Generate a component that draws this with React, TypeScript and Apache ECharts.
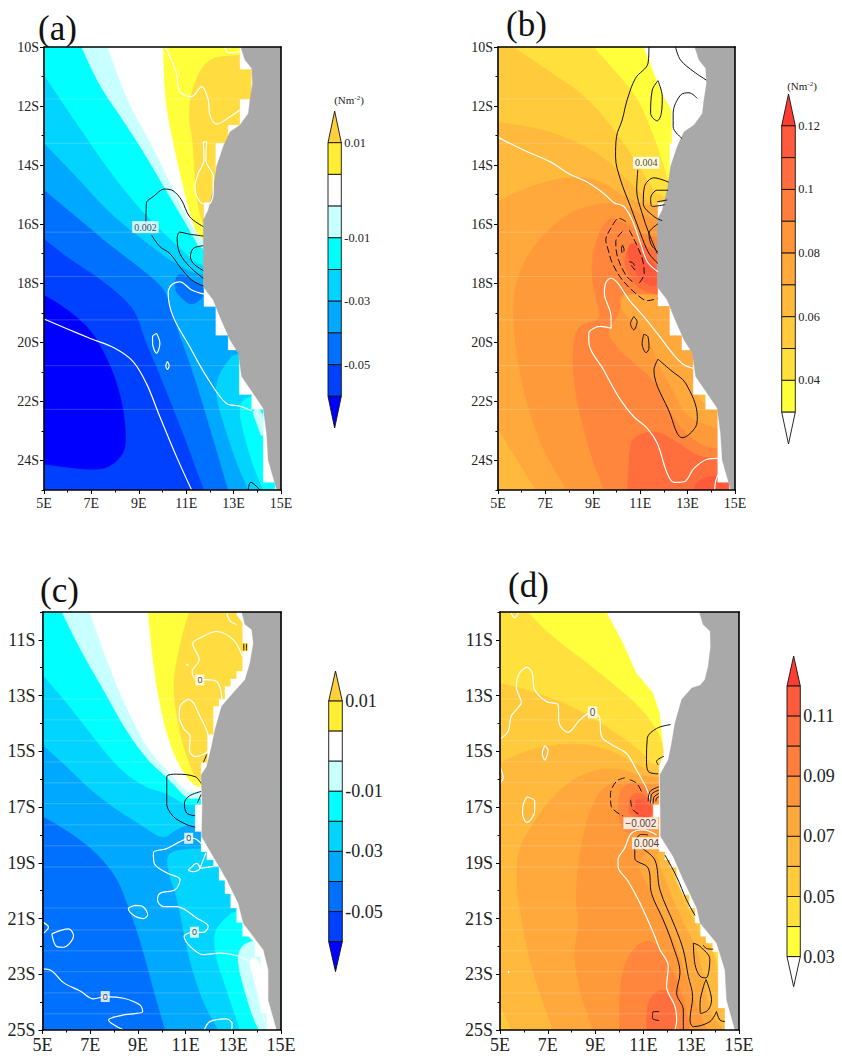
import React, { useEffect, useRef } from "react";
import * as echarts from "echarts";

type Pt = [number, number];
type Layer = [number, Pt[]];
type Lab = [number, number, string];

const closed = (p: Pt[]): Pt[] => [...p, p[0]];

const blueBands = ["#0000ff", "#0040ff", "#0070ff", "#00a8ff", "#00d4ff", "#00ffff", "#c8ffff", "#ffffff", "#ffff3c", "#ffdc40"];
const warmBands = ["#ffffff", "#ffff3c", "#ffe03c", "#ffcb3c", "#ffb93c", "#ffa83c", "#ff9a3a", "#ff863c", "#ff6e3c", "#ff5a3c", "#ff3c32"];
const barBlue = ["#ffcf3c", "#ffee33", "#ffffff", "#c8ffff", "#00ffff", "#00d4ff", "#00a8ff", "#0070ff", "#0040ff", "#0000ff"];
const barWarm = ["#ff3c32", "#ff5a3c", "#ff6e3c", "#ff7e3c", "#ff9438", "#ffa83c", "#ffb93c", "#ffcb3c", "#ffe03c", "#ffff3c", "#ffffff"];

const barLabelsA: Record<number, string> = { 1: "0.01", 4: "-0.01", 6: "-0.03", 8: "-0.05" };
const barLabelsB: Record<number, string> = { 1: "0.12", 3: "0.1", 5: "0.08", 7: "0.06", 9: "0.04" };
const barLabelsD: Record<number, string> = { 2: "0.11", 4: "0.09", 6: "0.07", 8: "0.05", 10: "0.03" };

const latTicksTop = [10, 12, 14, 16, 18, 20, 22, 24];
const latTicksBottom = [11, 13, 15, 17, 19, 21, 23, 25];

const seamLatsTop = [11.76, 13.26, 16.27, 17.77, 19.24, 20.79, 22.27];
const seamLatsBottom = [13.12, 13.87, 14.62, 15.38, 16.13, 16.88, 17.64, 18.39, 19.15, 20.62, 21.41, 22.16, 22.91, 23.67, 24.42];

const whole: Pt[] = [[5, 10], [15, 10], [15, 25], [5, 25]];

const landTop: Pt[] = [[13.3, 10], [13.48, 10.44], [13.76, 10.72], [13.8, 11.23], [13.69, 11.79], [13.62, 12.25], [13.27, 12.64], [12.85, 12.87], [12.56, 13.37], [12.28, 14.05], [12.14, 14.84], [11.93, 15.52], [11.72, 15.86], [11.72, 18.12], [12.14, 18.57], [12.42, 19.13], [12.85, 19.92], [13.2, 20.37], [13.34, 21.16], [13.83, 21.73], [14.25, 22.23], [14.39, 23.08], [14.46, 23.98], [14.82, 25], [15, 25], [15, 10]];
const landC: Pt[] = [[13.35, 10], [13.49, 10.45], [13.77, 10.63], [13.84, 11.11], [13.7, 11.83], [13.49, 12.43], [13, 12.9], [12.51, 13.38], [12.23, 14.22], [12.09, 14.82], [11.88, 15.55], [11.65, 15.85], [11.7, 16.98], [11.67, 18.06], [12.17, 18.79], [12.73, 19.62], [13.21, 20.45], [13.42, 21.17], [14.26, 22.12], [14.47, 22.84], [14.47, 23.93], [14.82, 25], [15, 25], [15, 10]];
const landD: Pt[] = [[13.34, 10], [13.5, 10.45], [13.79, 10.69], [13.81, 11.23], [13.71, 11.95], [13.57, 12.43], [13.37, 12.63], [13.02, 12.73], [12.6, 13.14], [12.32, 13.98], [12.18, 14.7], [12.04, 15.3], [11.69, 15.84], [11.72, 18.06], [12.25, 18.78], [12.67, 19.61], [13.23, 20.62], [13.37, 21.16], [14.06, 21.88], [14.41, 22.84], [14.48, 23.92], [14.83, 25], [15, 25], [15, 10]];

const maskA: Pt[] = [[13.27, 10], [13.27, 10.75], [13.76, 10.75], [13.76, 11.78], [13.27, 11.78], [13.27, 12.64], [12.77, 12.64], [12.77, 13.26], [12.25, 13.26], [12.25, 15.27], [11.75, 15.27], [11.75, 18.79], [12.25, 18.79], [12.25, 19.76], [12.77, 19.76], [12.77, 20.26], [13.24, 20.26], [13.24, 21.77], [13.76, 21.77], [13.76, 22.27], [14.25, 22.27], [14.25, 24.74], [14.75, 24.74], [14.75, 25], [15, 25], [15, 10]];
const maskB: Pt[] = [[11.15, 10], [11.58, 10.89], [12, 11.68], [12.32, 12.13], [12.35, 13.28], [12.25, 13.28], [12.25, 14.67], [12.03, 15.27], [11.75, 15.29], [11.75, 18.77], [12.25, 18.77], [12.25, 19.76], [12.76, 19.76], [12.76, 20.26], [13.24, 20.26], [13.24, 21.77], [13.76, 21.77], [13.76, 22.27], [14.27, 22.27], [14.27, 24.74], [14.76, 24.74], [14.76, 25], [15, 25], [15, 10]];
const maskC: Pt[] = [[13.14, 10], [13.14, 10.1], [13.39, 10.39], [13.39, 11.11], [13.63, 11.11], [13.63, 11.41], [13.39, 11.41], [13.39, 12.13], [13.14, 12.13], [13.14, 12.4], [12.89, 12.4], [12.89, 12.67], [12.65, 12.67], [12.65, 13.14], [12.4, 13.14], [12.4, 13.38], [12.17, 13.38], [12.17, 14.4], [11.92, 14.4], [11.92, 15.41], [11.65, 15.41], [11.65, 16.92], [11.4, 16.92], [11.4, 17.88], [11.65, 17.88], [11.65, 18.6], [11.89, 18.6], [11.89, 18.89], [12.17, 18.89], [12.17, 19.13], [12.4, 19.13], [12.4, 19.63], [12.65, 19.63], [12.65, 20.11], [12.89, 20.11], [12.89, 20.62], [13.14, 20.62], [13.14, 21.14], [13.39, 21.14], [13.39, 21.64], [13.63, 21.64], [13.91, 21.88], [13.91, 22.36], [14.15, 22.36], [14.15, 24.4], [14.4, 24.4], [14.4, 25], [15, 25], [15, 10]];
const maskD: Pt[] = [[9.46, 10], [10.15, 11.11], [10.71, 12.19], [11.41, 12.91], [11.69, 13.63], [11.86, 15.07], [11.66, 15.54], [11.66, 16.92], [11.41, 16.92], [11.41, 17.36], [11.66, 17.36], [11.66, 18.6], [11.9, 18.6], [11.9, 18.9], [12.11, 18.9], [12.11, 19.16], [12.39, 19.16], [12.39, 19.61], [12.67, 20.15], [12.92, 20.15], [12.92, 20.62], [13.16, 20.62], [13.16, 21.16], [13.39, 21.16], [13.39, 21.64], [13.62, 21.64], [13.62, 21.88], [13.9, 21.88], [13.9, 22.18], [14.13, 22.18], [14.13, 24.21], [14.41, 24.21], [14.41, 25], [15, 25], [15, 10]];

const fillsA: Layer[] = [
  [1, whole],
  [0, [[5, 18.4], [5.94, 18.85], [6.93, 19.53], [7.49, 20.26], [7.99, 21.16], [8.34, 22.18], [8.48, 23.31], [8.34, 23.82], [7.7, 24.27], [6.79, 24.32], [5, 24.13]]],
  [2, [[5, 16.49], [5.94, 17.1], [7.35, 17.83], [8.48, 18.57], [8.97, 19.13], [9.25, 19.92], [9.75, 20.82], [10.31, 21.95], [10.87, 23.08], [11.44, 24.32], [11.75, 25], [15, 25], [15, 10], [5, 10]]],
  [3, [[5, 14.84], [6.37, 15.75], [7.77, 16.7], [9.18, 17.55], [10.17, 18.23], [10.59, 19.47], [11.01, 20.37], [11.44, 21.39], [11.86, 22.52], [12.28, 23.65], [12.77, 25], [15, 25], [15, 10], [5, 10]]],
  [2, [[10.55, 17.78], [10.8, 17.66], [11.37, 17.95], [11.75, 18.12], [11.75, 18.45], [11.23, 18.79], [10.73, 18.45], [10.52, 18.23]]],
  [4, [[5, 13.26], [6.37, 14.39], [7.77, 15.63], [9.18, 16.53], [10.59, 17.38], [11.72, 17.78], [15, 17.78], [15, 10], [5, 10]]],
  [4, [[13.24, 20.37], [12.85, 20.49], [12.25, 21.27], [12.28, 21.95], [12.7, 23.08], [13.13, 24.1], [13.62, 25], [15, 25], [15, 20.37]]],
  [5, [[5, 10.95], [6.37, 12.58], [7.92, 14.39], [9.32, 15.74], [10.59, 16.7], [11.72, 17.55], [15, 17.55], [15, 10], [5, 10]]],
  [5, [[13.62, 21.78], [13.2, 22.18], [13.41, 23.08], [13.83, 24.2], [14.25, 25], [15, 25], [15, 21.78]]],
  [6, [[6.58, 10], [7.35, 11.34], [8.34, 12.47], [9.32, 13.71], [10.31, 15.07], [11.15, 16.2], [11.72, 17.04], [15, 17.04], [15, 10]]],
  [6, [[13.76, 22.27], [14.25, 22.27], [14.25, 23.36], [13.97, 22.74]]],
  [7, [[7.68, 10], [8.55, 11.91], [9.6, 13.38], [10.59, 15.07], [11.72, 16.76], [15, 16.76], [15, 10]]],
  [8, [[10.03, 10], [10.1, 11.79], [10.45, 13.26], [10.87, 14.73], [11.3, 16.08], [11.72, 16.65], [15, 16.65], [15, 10]]],
  [9, [[12.49, 10.27], [11.72, 10.55], [11.23, 11.46], [11.08, 12.36], [11.3, 13.26], [11.37, 14.73], [11.58, 15.75], [11.75, 16.03], [15, 16.03], [15, 10.27]]],
];
const whitesA: Pt[][] = [
  [[5, 19.21], [5.94, 19.53], [6.93, 19.86], [7.99, 20.2], [8.76, 20.65], [9.32, 21.39], [9.89, 22.52], [10.59, 23.87], [11.23, 25]],
  [[11.75, 18.37], [11.23, 18.23], [10.73, 17.95], [10.38, 18.06], [10.24, 18.34], [10.45, 19.13], [11.15, 20.15], [11.86, 21.16], [12.7, 22.07], [13.26, 22.16], [13.76, 22.32]],
  closed([[9.75, 19.7], [9.89, 20.03], [9.75, 20.37], [9.58, 20.03], [9.58, 19.81]]),
  closed([[10.21, 20.65], [10.28, 20.79], [10.21, 20.92], [10.14, 20.79]]),
  [[10.13, 10], [10.59, 10.89], [10.73, 11.51], [11.23, 11.68], [11.65, 11.34], [11.93, 11.79], [12, 12.3], [12.28, 12.61], [12.85, 12.36], [13.26, 12.13]],
  [[12.63, 10], [12.78, 10.19], [13.26, 10.16]],
  closed([[11.72, 13.21], [11.86, 13.21], [11.83, 13.83], [12.14, 14.39], [12.14, 14.95], [11.93, 15.32], [11.58, 15.24], [11.37, 14.73], [11.51, 14.28], [11.75, 13.83]]),
];
const blacksA: Pt[][] = [
  [[11.72, 16.08], [11.15, 15.75], [10.8, 15.18], [10.45, 14.87], [10.1, 14.81], [9.6, 15.07], [9.32, 15.29], [9.3, 16]],
  [[9.54, 16.37], [9.89, 16.76], [10.31, 16.99], [10.73, 17.44], [11.23, 17.89], [11.72, 18.09]],
  [[11.72, 16.4], [11.15, 16.34], [10.73, 16.27], [10.62, 16.48], [10.73, 16.99], [11.15, 17.44], [11.72, 17.83]],
  [[11.72, 16.73], [11.3, 16.82], [11.18, 17.1], [11.3, 17.33], [11.72, 17.57]],
  [[13.62, 25], [13.72, 24.74], [14.11, 25]],
];
const labelsA: Lab[] = [[9.28, 16.1, "0.002"]];

const fillsB: Layer[] = [
  [3, whole],
  [4, [[5, 12.55], [6.79, 12.75], [8.48, 13.26], [9.6, 13.83], [10.45, 14.5], [11.3, 15.18], [11.75, 15.63], [15, 15.63], [15, 25], [5, 25]]],
  [2, [[5.66, 10], [7.21, 10.84], [8.76, 11.68], [10.03, 12.92], [10.87, 13.94], [11.3, 14.5], [11.86, 15.18], [15, 15.18], [15, 10]]],
  [1, [[9.04, 10], [10.03, 10.89], [10.87, 11.68], [11.37, 12.58], [11.79, 13.49], [12.14, 14.39], [12.28, 14.84], [15, 14.84], [15, 10]]],
  [5, [[5, 15.24], [6.08, 14.79], [7.77, 14.39], [9.18, 14.45], [10.31, 15.07], [11.15, 15.35], [11.86, 15.4], [15, 15.4], [15, 25], [6.59, 25], [5, 22.93]]],
  [6, [[9.76, 15.24], [8.35, 15.46], [7.23, 16.08], [6.38, 16.87], [5.75, 17.89], [5.61, 19.13], [5.82, 20.6], [6.24, 22.18], [6.94, 23.76], [7.93, 25], [15, 25], [15, 15.9], [11.8, 15.9], [11, 15.65], [10.4, 15.4]]],
  [7, [[9.62, 15.74], [9.06, 16.65], [8.92, 17.78], [9.2, 18.68], [9.34, 19.25], [8.63, 19.36], [8.21, 19.64], [8.14, 20.82], [8.35, 22.16], [8.92, 23.87], [9.48, 25], [15, 25], [15, 16.5], [12, 16.5], [11, 16.33], [10.3, 15.9]]],
  [6, [[10.11, 18.29], [10.18, 19.02], [9.55, 19.64], [10.04, 20.2], [10.75, 20.71], [11.59, 21.27], [12.3, 22.4], [12.86, 23.08], [13.7, 23.53], [14.27, 23.59], [15, 23.59], [15, 18.4], [11.8, 18.4], [11, 18.5]]],
  [5, [[10.17, 18.34], [10.24, 19.02], [10.87, 19.36], [11.58, 20.26], [11.73, 20.71], [12.3, 21.5], [12.86, 22.41], [13.42, 22.69], [14.27, 22.92], [15, 22.92], [15, 18.4], [11.8, 18.4]]],
  [4, [[13.07, 21.22], [13.42, 21.84], [13.99, 22.29], [14.27, 22.29], [14.27, 21.5]]],
  [8, [[10.68, 23.19], [11.59, 22.97], [12.44, 23.31], [13.42, 23.87], [14.27, 23.93], [15, 23.93], [15, 25], [10.46, 25], [10.53, 23.76]]],
  [9, [[13.28, 25], [13.42, 24.66], [14.27, 24.49], [15, 24.5], [15, 25]]],
  [8, [[10.66, 16.54], [10.25, 17.21], [10.6, 17.89], [11.03, 18.23], [11.73, 18.4], [15, 18.4], [15, 17], [11.8, 17], [11.2, 16.7]]],
  [9, [[10.54, 16.65], [10.46, 17.1], [10.89, 17.78], [11.31, 18.06], [11.73, 18.12], [11.73, 17.44], [11.17, 17.1], [10.75, 16.65]]],
];
const whitesB: Pt[][] = [
  [[5, 13.06], [6.08, 13.49], [7.21, 13.89], [7.99, 14.29], [8.76, 14.57], [9.46, 14.96], [9.89, 15.27], [10.31, 15.4], [10.66, 15.86], [11.01, 16.65], [11.3, 17.27], [11.75, 17.61]],
  [[13.24, 20.88], [12.85, 20.76], [12.42, 20.43], [11.72, 19.7], [11.15, 19.13], [10.59, 18.62], [9.75, 17.83], [9.54, 18], [9.49, 18.34], [9.77, 19.13], [9.77, 19.52], [9.32, 19.46], [8.83, 19.7], [8.83, 19.97], [9.46, 20.94], [10.17, 21.95], [10.73, 22.52], [11.3, 22.91], [11.72, 23.42], [12.14, 24.44], [12.42, 24.74], [12.85, 24.72], [13.27, 24.27], [13.83, 23.96], [14.27, 23.93]],
  [[14.27, 24.49], [14.18, 24.72], [14.14, 25]],
];
const blacksB: Pt[][] = [
  [[11.37, 10], [11.33, 10.55], [10.8, 11.06], [10.45, 11.79], [10.24, 12.47], [10, 13.04], [9.96, 13.72], [10.17, 14.5], [10.59, 15.4], [11.01, 16.31], [11.37, 16.99], [11.75, 17.33]],
  [[10.9, 14.16], [10.85, 14.84], [11.08, 15.63], [11.37, 16.31], [11.72, 16.99]],
  [[12.21, 14.58], [11.58, 14.43], [11.18, 14.73], [11.13, 15.3], [11.58, 15.74], [11.93, 15.88]],
  [[12.18, 14.85], [11.72, 14.85], [11.44, 15.13], [11.51, 15.4], [12.03, 15.34]],
  [[11.72, 15.24], [12.14, 15.18]],
  [[11.75, 15.99], [11.37, 16.31], [11.47, 16.7], [11.75, 16.94]],
  [[12.49, 10], [12.7, 10.44], [13.27, 10.84], [13.79, 11.12]],
  [[13.41, 11.74], [13.06, 11.55], [12.7, 11.63], [12.39, 12.25], [12.39, 12.7], [12.77, 13.1]],
  closed([[11.75, 11.14], [11.93, 11.68], [11.89, 12.25], [11.72, 12.5], [11.44, 12.25], [11.51, 11.46]]),
  closed([[10.73, 19.13], [10.87, 19.3], [10.73, 19.58], [10.59, 19.36]]),
  closed([[11.15, 19.73], [11.32, 19.8], [11.37, 20.2], [11.25, 20.35], [11.08, 20.04]]),
  closed([[11.75, 20.57], [12.28, 20.94], [12.92, 21.39], [13.41, 22.52], [13.34, 22.86], [12.77, 23.23], [12.56, 23.08], [12.28, 22.46], [11.58, 20.94]]),
];
const dashedB: Pt[][] = [
  [[10.39, 15.91], [10.11, 15.8], [9.76, 16.14], [9.55, 16.54], [9.65, 16.87], [9.83, 17.33], [10.25, 17.89], [10.89, 18.4], [11.31, 18.59], [11.73, 18.51]],
  [[10.25, 16.25], [9.97, 16.59], [10.04, 17.1], [10.39, 17.72], [10.75, 18]],
  [[10.54, 16.2], [10.82, 16.65], [11.1, 17.21], [11.17, 17.67], [10.96, 17.99]],
  closed([[10.25, 16.7], [10.32, 16.87], [10.25, 16.99], [10.21, 16.82]]),
  [[10.54, 17.27], [10.72, 17.33], [10.77, 17.55], [10.6, 17.38]],
];
const labelsB: Lab[] = [[11.25, 13.92, "0.004"]];

const fillsC: Layer[] = [
  [2, whole],
  [3, [[5, 17.33], [6.02, 17.83], [7.14, 18.53], [8.11, 19.49], [8.6, 20.57], [9.09, 21.75], [9.65, 23.55], [10.14, 25], [15, 25], [15, 10], [5, 10]]],
  [4, [[5, 14.77], [6.02, 15.55], [7, 16.38], [8.11, 17.1], [9.23, 17.7], [10.07, 18.17], [10.49, 17.87], [11.05, 17.63], [11.6, 17.69], [15, 17.69], [15, 10], [5, 10]]],
  [4, [[10.2, 18.64], [10.27, 19.36], [10.62, 20.19], [10.9, 21.38], [11.18, 22.6], [11.74, 24.04], [12.37, 25], [15, 25], [15, 18.4], [12, 18.5], [11, 18.5]]],
  [5, [[5, 12.25], [6.02, 13.26], [7, 14.34], [8.11, 15.55], [9.23, 16.27], [10.21, 16.5], [11.05, 16.97], [11.6, 16.85], [15, 16.85], [15, 10], [5, 10]]],
  [5, [[13.2, 20.6], [12.45, 21.15], [12.18, 21.55], [12.25, 22.4], [12.73, 23.58], [13.28, 25], [15, 25], [15, 21]]],
  [6, [[5.81, 10], [6.58, 11.35], [7.56, 12.79], [8.4, 14.11], [9.37, 15.3], [10.35, 16.03], [11.05, 16.73], [11.6, 16.67], [15, 16.67], [15, 10]]],
  [6, [[13.64, 21.78], [13.23, 22.13], [13.18, 22.6], [13.45, 23.56], [13.86, 24.64], [14.07, 25], [15, 25], [15, 21.8]]],
  [7, [[6.97, 10], [7.83, 12.07], [8.68, 13.75], [9.51, 15.06], [10.21, 15.66], [11.05, 16.5], [11.6, 16.4], [15, 16.4], [15, 10]]],
  [7, [[13.63, 22.53], [13.84, 22.35], [14.2, 22.65], [14.16, 24.38], [13.99, 23.56]]],
  [8, [[9.42, 10], [9.65, 11.95], [9.93, 13.39], [10.35, 14.82], [10.91, 15.8], [11.6, 16.43], [15, 16.43], [15, 10]]],
  [9, [[11.15, 10], [10.84, 10.88], [10.52, 12.2], [10.49, 13.03], [10.77, 14.46], [11.19, 15.56], [11.6, 16.21], [15, 16.2], [15, 10]]],
];
const whitesC: Pt[][] = [
  [[12.73, 10.05], [12.87, 10.33], [13.14, 10.45]],
  [[13.39, 11.6], [13, 11], [12.3, 10.7], [11.6, 10.93], [11.3, 11.14], [11.57, 11.71], [11.27, 12.14], [11.48, 12.43], [11.89, 12.43], [12.3, 12.49], [12.47, 12.79], [12.52, 13.14]],
  [[11.02, 11.87], [11.14, 11.93]],
  closed([[11.12, 13.12], [11.33, 13.26], [11.6, 13.74], [11.92, 14.34], [12, 14.88], [11.4, 15.19], [11.16, 14.95], [11.19, 14.47], [10.91, 14.17], [10.73, 13.74], [10.77, 13.38]]),
  [[11.65, 18.3], [11.33, 18.12], [11.13, 18.12], [10.77, 18.24], [10.21, 18.49], [9.65, 18.64], [9.68, 19.01], [10.21, 19.36], [10.77, 19.6], [10.56, 19.97], [9.93, 20.09], [9.82, 20.33], [10.07, 20.57], [10.63, 20.57], [11.46, 20.98], [11.95, 21.28], [11.74, 21.5], [11.37, 21.49], [10.94, 21.64], [11.19, 22], [11.74, 22.3], [12.44, 22.24], [13, 22.3], [13.63, 22.5]],
  closed([[11.19, 19.2], [11.47, 19.02], [11.6, 19.2], [11.33, 19.32], [11.12, 19.26]]),
  [[11.6, 19.2], [12.17, 19.13]],
  [[11.85, 18.65], [11.6, 19.2]],
  closed([[8.88, 20.53], [9.16, 20.55], [9.41, 20.86], [9.23, 21], [8.88, 20.92], [8.6, 20.65]]),
  [[5, 21.13], [5.25, 21.31], [5, 21.55]],
  closed([[5.39, 21.55], [6.09, 21.37], [6.3, 21.61], [5.88, 22.03], [5.6, 22.01]]),
  [[5, 22.81], [5.39, 22.88], [5.88, 23.3], [6.58, 23.6], [7.14, 23.88], [7.63, 23.8], [8.4, 23.86], [9.09, 24.1], [9.2, 24.34], [8.4, 24.46], [7.77, 24.64], [8.4, 25]],
  [[11.78, 25], [12.02, 24.7], [12.71, 24.6], [12.95, 24.77], [12.93, 25]],
  [[14.25, 24.46], [14.32, 24.73]],
];
const blacksC: Pt[][] = [
  [[11.65, 16.15], [11.4, 15.91], [10.63, 15.82], [10.21, 15.92], [10.21, 16.87], [10.49, 17.34], [11.05, 17.63], [11.4, 17.72]],
  [[11.65, 16.44], [11.16, 16.6], [10.95, 16.86], [11.05, 17.22], [11.4, 17.31]],
  [[11.49, 16.85], [11.65, 16.55]],
  [[11.75, 15.39], [11.89, 15.11]],
  [[13.44, 11.14], [13.44, 11.38]],
  [[13.55, 11.14], [13.55, 11.38]],
];
const labelsC: Lab[] = [[11.6, 12.44, "0"], [11.13, 18.12, "0"], [11.37, 21.49, "0"], [7.63, 23.8, "0"]];

const fillsD: Layer[] = [
  [2, whole],
  [1, [[6.17, 10], [7.08, 10.81], [8.48, 11.71], [9.87, 12.67], [10.99, 13.5], [11.76, 14.47], [11.86, 15.07], [15, 15.07], [15, 10]]],
  [3, [[5, 12.55], [6.38, 12.85], [8.06, 13.39], [9.46, 14.11], [10.85, 14.94], [11.55, 15.66], [15, 15.66], [15, 25], [5, 25]]],
  [4, [[5, 15.39], [6.38, 14.88], [8.06, 14.7], [9.46, 14.88], [10.85, 15.54], [11.65, 15.84], [15, 15.84], [15, 25], [5, 25]]],
  [3, [[5, 24.15], [5.47, 25], [5, 25]]],
  [5, [[10.99, 15.96], [10.29, 15.66], [9.18, 15.6], [7.99, 16.02], [7.08, 16.74], [6.38, 17.58], [5.75, 18.53], [5.68, 19.61], [5.89, 21.05], [6.24, 22.48], [6.66, 23.67], [7.22, 25], [15, 25], [15, 15.96]]],
  [6, [[9.87, 16.02], [9.04, 16.5], [8.41, 18.06], [8.13, 20.33], [8.34, 21.17], [8.06, 22.24], [8.34, 23.67], [8.9, 25], [15, 25], [15, 16.2], [11, 16.2]]],
  [5, [[10.71, 19.01], [11.13, 19.73], [11.97, 21.17], [12.53, 22.36], [12.95, 23.56], [13.65, 25], [15, 25], [15, 18.6], [11.66, 18.6], [11.41, 18.42]]],
  [4, [[11.55, 18.78], [11.97, 19.73], [12.67, 21.17], [13.23, 22], [13.51, 23.08], [13.78, 24.4], [14.34, 25], [15, 25], [15, 18.6], [11.66, 18.6]]],
  [3, [[11.97, 18.9], [12.39, 19.73], [13.09, 21.05], [13.65, 21.77], [14.06, 22.48], [14.13, 23.32], [14.2, 24.21], [15, 24.2], [15, 18.9]]],
  [2, [[12.25, 19.37], [12.67, 19.85], [12.95, 20.27], [15, 20.27], [15, 19.37]]],
  [2, [[13.85, 22.1], [14.13, 22.48], [14.13, 23.08], [15, 23], [15, 22]]],
  [7, [[10.29, 16.08], [9.94, 16.62], [9.94, 17.21], [10.13, 17.93], [10.85, 17.88], [11.41, 17.94], [11.41, 16.26]]],
  [8, [[10.5, 16.5], [10.36, 16.98], [10.43, 17.34], [11.41, 17.4], [11.41, 16.86], [10.99, 16.5]]],
  [9, [[10.71, 16.62], [10.64, 17.1], [10.71, 17.34], [11.38, 17.37], [11.38, 16.98]]],
  [7, [[10.01, 25], [9.99, 23.56], [10.29, 22.36], [10.99, 21.76], [11.55, 21.88], [11.97, 22.48], [12.53, 23.44], [12.81, 24.4], [12.95, 25]]],
  [8, [[11.13, 25], [11.13, 24.16], [11.41, 23.67], [11.97, 23.5], [12.32, 24.16], [12.39, 25]]],
];
const whitesD: Pt[][] = [
  [[5.45, 10], [5.61, 10.21], [5.78, 10]],
  [[5, 14.56], [5.34, 14.28], [5.47, 13.74], [5.75, 13.44], [5.89, 13.26], [5.68, 12.67], [5.82, 12.19], [6.13, 11.99], [6.35, 12.19], [6.45, 12.79], [6.94, 13.21], [7.43, 13.33], [7.47, 13.98], [7.85, 14.32], [8.34, 13.87], [8.76, 13.64], [9.15, 13.75], [9.25, 14.47], [9.73, 14.79], [10.29, 15.07], [10.71, 15.67], [11.13, 16.33], [11.34, 16.87]],
  closed([[6.87, 14.8], [7.01, 14.95], [6.87, 15.31], [6.77, 15.06]]),
  [[5, 15.54], [5.13, 15.96], [5, 16.14]],
  closed([[6.13, 16.63], [6.45, 16.79], [6.45, 17.15], [6.13, 17.55], [5.94, 17.21], [5.99, 16.85]]),
  [[11.55, 18], [10.99, 17.82], [10.5, 17.94], [10.22, 18.47], [9.94, 18.89], [9.94, 19.13], [10.36, 19.66], [10.85, 20.43], [11.41, 21.5], [11.69, 22.11], [12.04, 22.71], [11.97, 23.44], [12.32, 24.15], [12.39, 24.64], [12.32, 25]],
  [[5.36, 22.88], [5.36, 22.96]],
];
const blacksD: Pt[][] = [
  [[12.14, 14.04], [11.55, 14.18], [11.16, 14.54], [11.13, 15.3], [11.2, 15.72], [11.62, 15.81]],
  [[11.86, 15.18], [11.55, 15.36], [11.62, 15.49]],
  [[11.2, 16.8], [11.27, 16.45], [11.65, 16.27]],
  [[11.3, 16.87], [11.34, 16.55], [11.65, 16.39]],
  [[11.41, 16.87], [11.44, 16.65], [11.65, 16.51]],
  [[11.52, 16.8], [11.55, 16.68], [11.65, 16.63]],
  [[11.2, 18], [10.92, 17.98], [10.64, 18.3], [10.64, 18.84], [11.2, 19.19], [11.34, 20.1], [11.83, 21.05], [12.25, 22], [12.53, 22.95], [12.39, 23.67], [12.67, 24.28], [12.67, 25]],
  [[10.92, 18.47], [11.48, 18.9], [11.69, 19.97], [12.32, 21.29], [12.67, 22.13], [12.88, 23.08], [13.06, 23.8], [12.95, 24.64], [13.09, 24.88], [13.78, 24.7], [14.06, 24.34]],
  [[11.9, 18.72], [12.39, 19.5], [12.81, 20.34], [13.16, 20.89]],
  closed([[13.09, 21.88], [13.37, 22], [13.78, 22.47], [13.62, 23.13], [13.37, 23.07], [13.16, 22.65]]),
  closed([[13.62, 23.19], [13.85, 23.92], [13.71, 24.28], [13.39, 24.41], [13.37, 24.05], [13.51, 23.45]]),
  [[14.06, 24.34], [14.2, 24.64], [14.41, 24.7]],
  [[11.66, 24.34], [11.41, 24.34], [11.38, 24.58], [11.66, 24.66]],
  [[13.5, 21.95], [13.65, 22.08], [13.92, 22.1]],
];
const dashedD: Pt[][] = [
  [[10.22, 15.95], [9.87, 16.08], [9.62, 16.54], [9.66, 16.98], [10.15, 17.32]],
  [[10.43, 16.02], [10.71, 16.14], [10.92, 16.44]],
  [[10.46, 16.74], [10.57, 17.1], [10.92, 17.3]],
];
const labelsD: Lab[] = [[8.87, 13.6, "0"], [10.89, 17.58, "\u22120.002"], [11.13, 18.3, "0.004"]];

const SERIF = "Liberation Serif";
const SANS = "Liberation Sans";

const panels = [
  { left: 44, top: 47, width: 237, height: 443, bands: blueBands, fills: fillsA, land: landTop, mask: maskA, seams: seamLatsTop, whites: whitesA, blacks: blacksA, dashed: [] as Pt[][], labels: labelsA, latTicks: latTicksTop, axisFont: 14, yMargin: 5, labelFont: SERIF, labelSize: 10 },
  { left: 498, top: 47, width: 237, height: 443, bands: warmBands, fills: fillsB, land: landTop, mask: maskB, seams: seamLatsTop, whites: whitesB, blacks: blacksB, dashed: dashedB, labels: labelsB, latTicks: latTicksTop, axisFont: 14, yMargin: 5, labelFont: SERIF, labelSize: 10 },
  { left: 42.5, top: 612, width: 238.5, height: 418, bands: blueBands, fills: fillsC, land: landC, mask: maskC, seams: seamLatsBottom, whites: whitesC, blacks: blacksC, dashed: [] as Pt[][], labels: labelsC, latTicks: latTicksBottom, axisFont: 18, yMargin: 7, labelFont: SANS, labelSize: 9 },
  { left: 500, top: 612, width: 239, height: 418, bands: warmBands, fills: fillsD, land: landD, mask: maskD, seams: seamLatsBottom, whites: whitesD, blacks: blacksD, dashed: dashedD, labels: labelsD, latTicks: latTicksBottom, axisFont: 18, yMargin: 7, labelFont: SANS, labelSize: 10 },
];

const bars = [
  { left: 328, top: 111, width: 13.3, height: 317, colors: barBlue, labels: barLabelsA, size: 12.4 },
  { left: 781.7, top: 94, width: 13.6, height: 350, colors: barWarm, labels: barLabelsB, size: 12.4 },
  { left: 328.7, top: 671, width: 13.6, height: 300.7, colors: barBlue, labels: barLabelsA, size: 18 },
  { left: 787, top: 656, width: 13.3, height: 330.7, colors: barWarm, labels: barLabelsD, size: 18 },
];

const letters = [
  { text: "(a)", x: 38, y: 28 },
  { text: "(b)", x: 506, y: 24 },
  { text: "(c)", x: 40, y: 590 },
  { text: "(d)", x: 508, y: 585 },
];
const unitTitles = [
  { x: 349, y: 100 },
  { x: 802, y: 86 },
];

const TEXT = "#222";
const LAND = "#a9a9a9";

// Rounds the band outlines when they are drawn; vertices on the frame stay where they are.
function rounded(pts: Pt[]): Pt[] {
  const pinned = (p: Pt) => p[0] <= 5 || p[0] >= 15 || p[1] <= 10 || p[1] >= 25;
  let cur = pts;
  for (let k = 0; k < 2; k++) {
    const out: Pt[] = [];
    cur.forEach((p, i) => {
      if (pinned(p)) {
        out.push(p);
        return;
      }
      const a = cur[(i - 1 + cur.length) % cur.length];
      const b = cur[(i + 1) % cur.length];
      out.push([p[0] * 0.75 + a[0] * 0.25, p[1] * 0.75 + a[1] * 0.25]);
      out.push([p[0] * 0.75 + b[0] * 0.25, p[1] * 0.75 + b[1] * 0.25]);
    });
    cur = out;
  }
  return cur;
}

function buildOption() {
  const grid: any[] = [];
  const xAxis: any[] = [];
  const yAxis: any[] = [];
  const series: any[] = [];
  const frameLine = { show: true, onZero: false, lineStyle: { color: "#000", width: 1.6 } };

  panels.forEach((p) => {
    const g = grid.length;
    const box = { left: p.left, top: p.top, width: p.width, height: p.height, containLabel: false };
    grid.push(box, box);
    const mainX = xAxis.length;
    const mainY = yAxis.length;
    const labelStyle = { fontFamily: SERIF, fontSize: p.axisFont, color: TEXT };
    xAxis.push(
      { gridIndex: g, type: "value", position: "bottom", min: 5, max: 15, interval: 2, z: 10, splitLine: { show: false }, axisLine: frameLine, axisTick: { show: true, length: 4, inside: false, lineStyle: { color: "#000", width: 1 } }, axisLabel: { ...labelStyle, margin: 6, formatter: (v: number) => `${v}E` } },
      { gridIndex: g, type: "value", position: "top", min: 5, max: 15, interval: 5, z: 10, splitLine: { show: false }, axisLine: frameLine, axisTick: { show: false }, axisLabel: { show: false } },
      { gridIndex: g + 1, type: "value", position: "bottom", min: 5, max: 15, interval: 1, z: 9, splitLine: { show: false }, axisLine: { show: false }, axisTick: { show: true, length: 2.5, lineStyle: { color: "#000", width: 1 } }, axisLabel: { show: false } },
    );
    yAxis.push(
      { gridIndex: g, type: "value", position: "left", min: -25, max: -10, interval: 1, z: 10, splitLine: { show: false }, axisLine: frameLine, axisTick: { show: true, length: 4, customValues: p.latTicks.map((v) => -v), lineStyle: { color: "#000", width: 1 } }, axisLabel: { ...labelStyle, margin: p.yMargin, customValues: p.latTicks.map((v) => -v), formatter: (v: number) => `${-v}S` } },
      { gridIndex: g, type: "value", position: "right", min: -25, max: -10, interval: 5, z: 10, splitLine: { show: false }, axisLine: frameLine, axisTick: { show: false }, axisLabel: { show: false } },
      { gridIndex: g + 1, type: "value", position: "left", min: -25, max: -10, interval: 1, z: 9, splitLine: { show: false }, axisLine: { show: false }, axisTick: { show: true, length: 2.5, lineStyle: { color: "#000", width: 1 } }, axisLabel: { show: false } },
    );
    const coords = { xAxisIndex: mainX, yAxisIndex: mainY };

    const polygonSeries = (layers: { color: string; pts: Pt[] }[]) => ({
      type: "custom",
      ...coords,
      silent: true,
      z: 2,
      clip: true,
      data: layers.map((_, i) => [i]),
      renderItem: (_: any, api: any) => {
        const l = layers[api.value(0)];
        return {
          type: "polygon",
          shape: { points: l.pts.map(([lon, lat]) => api.coord([lon, -lat])) },
          style: { fill: l.color, stroke: l.color, lineWidth: 0.3 },
        };
      },
    });
    series.push(polygonSeries(p.fills.map(([band, pts]) => ({ color: p.bands[band], pts: rounded(pts) }))));
    series.push({
      type: "custom",
      ...coords,
      silent: true,
      z: 2,
      clip: true,
      data: p.seams.map((lat) => [lat]),
      renderItem: (_: any, api: any) => {
        const lat = api.value(0);
        const a = api.coord([5, -lat]);
        const b = api.coord([15, -lat]);
        return { type: "line", shape: { x1: a[0], y1: a[1], x2: b[0], y2: b[1] }, style: { stroke: "rgba(255,255,255,0.2)", lineWidth: 1 } };
      },
    });
    series.push(polygonSeries([{ color: "#ffffff", pts: p.mask }, { color: LAND, pts: p.land }]));

    const lineSeries = (pts: Pt[], color: string, width: number, type: any) => ({
      type: "line",
      ...coords,
      silent: true,
      z: 3,
      symbol: "none",
      smooth: 0.35,
      data: pts.map(([lon, lat]) => [lon, -lat]),
      lineStyle: { color, width, type },
    });
    p.whites.forEach((c) => series.push(lineSeries(c, "#ffffff", 1.2, "solid")));
    p.blacks.forEach((c) => series.push(lineSeries(c, "#111111", 1, "solid")));
    p.dashed.forEach((c) => series.push(lineSeries(c, "#111111", 1, [7, 3])));
    series.push({
      type: "scatter",
      ...coords,
      silent: true,
      z: 5,
      symbolSize: 1,
      itemStyle: { color: "rgba(0,0,0,0)" },
      data: p.labels.map(([lon, lat, text]) => ({ value: [lon, -lat], text })),
      label: {
        show: true,
        position: "inside",
        formatter: (q: any) => q.data.text,
        backgroundColor: "#ffffff",
        padding: [1, 2],
        color: "#111",
        fontFamily: p.labelFont,
        fontSize: p.labelSize,
      },
    });
  });

  bars.forEach((b) => {
    const g = grid.length;
    const n = b.colors.length;
    grid.push({ left: b.left, top: b.top, width: b.width, height: b.height });
    const xi = xAxis.length;
    const yi = yAxis.length;
    xAxis.push({ gridIndex: g, type: "value", min: 0, max: 1, show: false });
    yAxis.push({
      gridIndex: g,
      type: "value",
      position: "right",
      min: 0,
      max: n,
      interval: 1,
      inverse: true,
      splitLine: { show: false },
      axisLine: { show: false },
      axisTick: { show: false },
      axisLabel: { margin: 3, fontFamily: SERIF, fontSize: b.size, color: TEXT, formatter: (v: number) => (b.labels as any)[v] ?? "" },
    });
    series.push({
      type: "custom",
      xAxisIndex: xi,
      yAxisIndex: yi,
      silent: true,
      z: 2,
      data: b.colors.map((_, i) => [i]),
      renderItem: (_: any, api: any) => {
        const i = api.value(0);
        let pts: number[][];
        if (i === 0) pts = [[0, 1], [1, 1], [0.5, 0]];
        else if (i === n - 1) pts = [[0, n - 1], [1, n - 1], [0.5, n]];
        else pts = [[0, i], [1, i], [1, i + 1], [0, i + 1]];
        return {
          type: "polygon",
          shape: { points: pts.map((q) => api.coord(q)) },
          style: { fill: b.colors[i], stroke: "#111", lineWidth: 0.9 },
        };
      },
    });
  });

  const graphic: any[] = [
    ...letters.map((l) => ({
      type: "text",
      x: l.x,
      y: l.y,
      style: { text: l.text, fontFamily: SERIF, fontSize: 35, fill: "#111", verticalAlign: "middle" },
    })),
    ...unitTitles.map((u) => ({
      type: "text",
      x: u.x,
      y: u.y,
      style: {
        text: "{a|(Nm}{b|-2}{a|)}",
        align: "center",
        verticalAlign: "middle",
        rich: {
          a: { fontFamily: SERIF, fontSize: 11, fill: TEXT },
          b: { fontFamily: SERIF, fontSize: 7, fill: TEXT, padding: [0, 0, 5, 0] },
        },
      },
    })),
  ];

  return { animation: false, backgroundColor: "#ffffff", grid, xAxis, yAxis, series, graphic };
}

export default function App() {
  const ref = useRef<HTMLDivElement>(null);
  useEffect(() => {
    document.body.style.margin = "0";
    const chart = echarts.init(ref.current!, undefined, { renderer: "svg" });
    chart.setOption(buildOption() as any);
    return () => chart.dispose();
  }, []);
  return <div ref={ref} style={{ position: "absolute", left: 0, top: 0, width: 842, height: 1059 }} />;
}
